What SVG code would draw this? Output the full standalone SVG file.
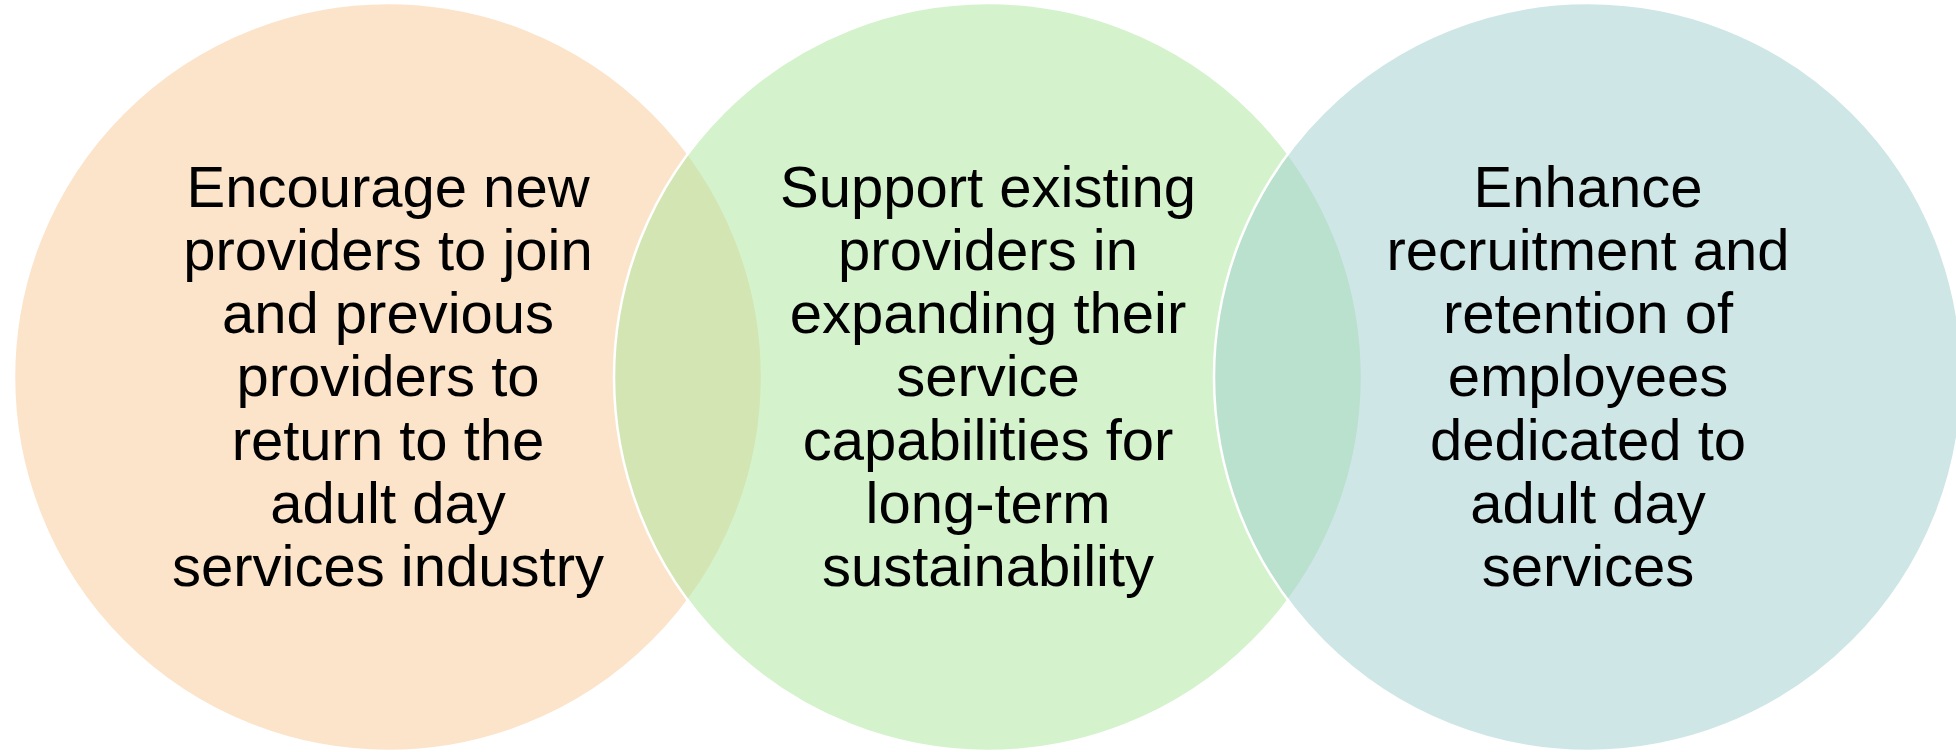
<svg xmlns="http://www.w3.org/2000/svg" width="1956" height="752" viewBox="0 0 1956 752">
<style>
.c{stroke:#FFFFFF;stroke-width:2.5;fill-opacity:0.5}
.t{font-family:"Liberation Sans",Arial,sans-serif;font-size:58px;fill:#000000;text-anchor:middle}
</style>
<rect width="1956" height="752" fill="#FFFFFF"/>
<g id="node1">
<circle class="c" cx="388" cy="377" r="374" fill="#F9C997"/>
</g>
<g id="node2">
<circle class="c" cx="988" cy="377" r="374" fill="#A9E599"/>
</g>
<g id="node3">
<circle class="c" cx="1588" cy="377" r="374" fill="#9FCDCF"/>
</g>
<g id="labels">
<text class="t" x="388" y="207"><tspan x="388" y="207">Encourage new</tspan><tspan x="388" y="270">providers to join</tspan><tspan x="388" y="333">and previous</tspan><tspan x="388" y="396">providers to</tspan><tspan x="388" y="460">return to the</tspan><tspan x="388" y="523">adult day</tspan><tspan x="388" y="586">services industry</tspan></text>
<text class="t" x="988" y="207"><tspan x="988" y="207">Support existing</tspan><tspan x="988" y="270">providers in</tspan><tspan x="988" y="333">expanding their</tspan><tspan x="988" y="396">service</tspan><tspan x="988" y="460">capabilities for</tspan><tspan x="988" y="523">long-term</tspan><tspan x="988" y="586">sustainability</tspan></text>
<text class="t" x="1588" y="207"><tspan x="1588" y="207">Enhance</tspan><tspan x="1588" y="270">recruitment and</tspan><tspan x="1588" y="333">retention of</tspan><tspan x="1588" y="396">employees</tspan><tspan x="1588" y="460">dedicated to</tspan><tspan x="1588" y="523">adult day</tspan><tspan x="1588" y="586">services</tspan></text>
</g>
<g id="connectors"></g>
</svg>
